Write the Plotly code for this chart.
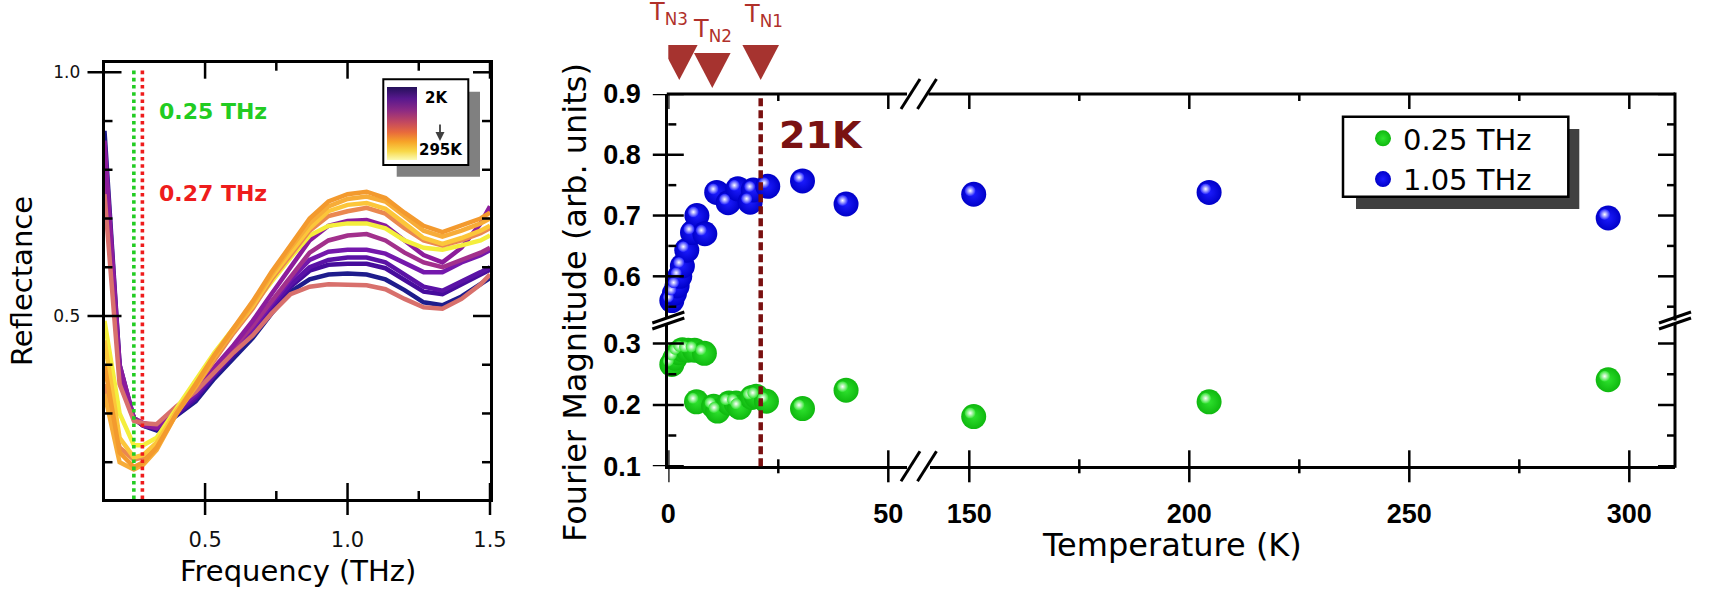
import plotly.graph_objects as go

W, H = 1714, 598

# ---------------- Left panel data: reflectance spectra ----------------
FREQ_THZ = [0.147, 0.2, 0.25, 0.283, 0.33, 0.4, 0.467, 0.533, 0.6, 0.667, 0.733, 0.8,
            0.867, 0.933, 1.0, 1.067, 1.133, 1.2, 1.267, 1.333, 1.4, 1.467, 1.5]

R_NAVY = [0.88, 0.40, 0.29, 0.275, 0.265, 0.295, 0.325, 0.372, 0.415, 0.455, 0.505, 0.55,
          0.575, 0.585, 0.587, 0.585, 0.575, 0.553, 0.528, 0.522, 0.54, 0.565, 0.578]
R_INDIGO2 = [0.84, 0.39, 0.29, 0.275, 0.268, 0.298, 0.33, 0.378, 0.42, 0.465, 0.515, 0.56,
             0.593, 0.605, 0.607, 0.607, 0.598, 0.575, 0.55, 0.545, 0.565, 0.585, 0.595]
R_INDIGO = [0.82, 0.39, 0.29, 0.278, 0.27, 0.30, 0.335, 0.38, 0.425, 0.47, 0.52, 0.565,
            0.60, 0.615, 0.62, 0.62, 0.61, 0.585, 0.56, 0.552, 0.57, 0.59, 0.60]
R_VIOLET = [0.80, 0.39, 0.29, 0.28, 0.272, 0.305, 0.34, 0.385, 0.43, 0.475, 0.525, 0.575,
            0.615, 0.632, 0.636, 0.636, 0.628, 0.608, 0.59, 0.59, 0.61, 0.625, 0.635]
R_MAGENTA = [0.78, 0.38, 0.29, 0.28, 0.275, 0.31, 0.345, 0.39, 0.435, 0.48, 0.53, 0.58,
             0.63, 0.655, 0.665, 0.668, 0.655, 0.63, 0.61, 0.60, 0.615, 0.63, 0.64]
R_PURPLE = [0.86, 0.40, 0.29, 0.275, 0.27, 0.31, 0.345, 0.395, 0.44, 0.49, 0.545, 0.60,
            0.655, 0.685, 0.695, 0.697, 0.685, 0.655, 0.625, 0.61, 0.64, 0.69, 0.725]
R_SALMON = [0.75, 0.36, 0.285, 0.28, 0.278, 0.315, 0.345, 0.385, 0.425, 0.46, 0.505, 0.545,
            0.56, 0.565, 0.565, 0.563, 0.555, 0.535, 0.518, 0.515, 0.535, 0.565, 0.585]
R_YELLOW = [0.49, 0.30, 0.235, 0.235, 0.25, 0.31, 0.365, 0.425, 0.475, 0.52, 0.57, 0.62,
            0.665, 0.685, 0.69, 0.69, 0.68, 0.655, 0.64, 0.636, 0.645, 0.655, 0.665]
R_CORAL = [0.36, 0.23, 0.205, 0.21, 0.235, 0.305, 0.355, 0.41, 0.465, 0.515, 0.575, 0.625,
           0.675, 0.705, 0.715, 0.722, 0.71, 0.68, 0.655, 0.645, 0.655, 0.67, 0.68]
R_GOLD = [0.45, 0.25, 0.21, 0.215, 0.24, 0.305, 0.36, 0.42, 0.47, 0.52, 0.58, 0.63,
          0.68, 0.715, 0.728, 0.732, 0.72, 0.69, 0.66, 0.648, 0.66, 0.675, 0.685]
R_ORANGE2 = [0.34, 0.20, 0.185, 0.195, 0.225, 0.30, 0.355, 0.415, 0.47, 0.525, 0.585, 0.64,
             0.69, 0.725, 0.74, 0.745, 0.735, 0.705, 0.675, 0.663, 0.675, 0.69, 0.70]
R_ORANGE1 = [0.40, 0.22, 0.19, 0.20, 0.23, 0.30, 0.36, 0.42, 0.475, 0.53, 0.59, 0.645,
             0.70, 0.735, 0.75, 0.755, 0.742, 0.712, 0.685, 0.672, 0.685, 0.70, 0.712]

SPECTRA = [R_NAVY, R_INDIGO2, R_INDIGO, R_VIOLET, R_MAGENTA, R_PURPLE, R_SALMON,
           R_YELLOW, R_CORAL, R_GOLD, R_ORANGE2, R_ORANGE1]
SPECTRA_COLORS = ["#1e1c8c", "#460c9c", "#5a12a6", "#7418ac", "#a2308c", "#8c1c9c",
                  "#d8706c", "#f4ee3c", "#ea8850", "#fcc63a", "#f7ac38", "#f39a2e"]

MARKED_FREQS = [0.25, 0.28]
MARKED_LABELS = ["0.25 THz", "0.27 THz"]
MARKED_COLORS = ["#22cc22", "#ee1c1c"]

# ---------------- Right panel data: Fourier magnitude vs T ----------------
T_GREEN = [0.8, 1.5, 2.3, 3.2, 4.5, 6.0, 6.4, 8.2, 10.3, 11.2, 13.8, 15.4, 16.2, 19.0,
           20.0, 22.3, 30.5, 40.4, 151.0, 204.5, 295.2]
M_GREEN = [0.266, 0.276, 0.285, 0.290, 0.289, 0.289, 0.205, 0.284, 0.198, 0.190, 0.203,
           0.203, 0.196, 0.212, 0.214, 0.206, 0.194, 0.224, 0.181, 0.205, 0.241]
T_BLUE = [0.8, 1.4, 2.0, 2.6, 3.2, 4.2, 5.5, 6.5, 8.3, 11.0, 13.6, 15.8, 18.6, 19.3,
          22.6, 30.5, 40.4, 151.0, 204.5, 295.2]
M_BLUE = [0.560, 0.572, 0.584, 0.600, 0.617, 0.643, 0.672, 0.700, 0.670, 0.738, 0.721,
          0.744, 0.722, 0.742, 0.748, 0.757, 0.719, 0.735, 0.738, 0.696]
SERIES_NAMES = ["0.25 THz", "1.05 THz"]

T_NEEL = [2.5, 10.0, 21.0]
NEEL_LABELS = ["T<sub>N3</sub>", "T<sub>N2</sub>", "T<sub>N1</sub>"]
T_HIGHLIGHT = 21.0
HIGHLIGHT_LABEL = "21K"

# tick positions
LX_MAJOR, LX_MINOR = [0.5, 1.0, 1.5], [0.75, 1.25]
LY_MAJOR, LY_MINOR = [0.5, 1.0], [0.2, 0.3, 0.4, 0.6, 0.7, 0.8, 0.9]
XA_TICKS, XA_MINOR = [0, 50], [25]
XB_TICKS, XB_MINOR = [150, 200, 250, 300], [175, 225, 275]
YU_TICKS, YU_MINOR = [0.6, 0.7, 0.8, 0.9], [0.55, 0.65, 0.75, 0.85]
YL_TICKS, YL_MINOR = [0.1, 0.2, 0.3], [0.15, 0.25]

# ---------------- layout geometry (pixels) ----------------
def fx(px):
    return px / W


def fy(py):
    return 1 - py / H


LX0, LX1, LY0, LY1 = 104.5, 490.0, 62.7, 499.0
L_XRANGE = [0.147, 1.5]
L_YRANGE = [0.1245, 1.0197]


def lx_px(v):
    return LX0 + (v - L_XRANGE[0]) / (L_XRANGE[1] - L_XRANGE[0]) * (LX1 - LX0)


def ly_px(v):
    return LY1 - (v - L_YRANGE[0]) / (L_YRANGE[1] - L_YRANGE[0]) * (LY1 - LY0)


PX_PER_K = 4.4
RX_A0, RX_A1 = 668.3, 907.0
RX_B0, RX_B1 = 930.0, 1675.0
RY_TOP, RY_U_BOT, RY_L_TOP, RY_BOT = 94.0, 319.0, 325.0, 466.3
XA_RANGE = [0, (RX_A1 - RX_A0) / PX_PER_K]
XB_RANGE = [150 - (969.3 - RX_B0) / PX_PER_K, 150 + (RX_B1 - 969.3) / PX_PER_K]
YU_RANGE = [0.9 - (RY_U_BOT - RY_TOP) / 607.7, 0.9]
YL_RANGE = [0.1, 0.1 + (RY_BOT - RY_L_TOP) / 614.0]
PPU_YU = (RY_U_BOT - RY_TOP) / (YU_RANGE[1] - YU_RANGE[0])
PPU_YL = (RY_BOT - RY_L_TOP) / (YL_RANGE[1] - YL_RANGE[0])
HL_SHIFT_PX = 3.5

FONT_L = "DejaVu Sans"
FONT_TICK_R = "Liberation Sans"
TICKW = 2.5


def axis(**kw):
    d = dict(showgrid=False, zeroline=False, showline=False, showticklabels=False,
             linecolor="black", ticks="")
    d.update(kw)
    return d


fig = go.Figure()

for vals, col in zip(SPECTRA, SPECTRA_COLORS):
    fig.add_trace(go.Scatter(x=FREQ_THZ, y=vals, mode="lines",
                             line=dict(color=col, width=4.5),
                             showlegend=False, hoverinfo="skip",
                             xaxis="x", yaxis="y"))

CBAR_SCALE = [[0.0, "#fbfbb4"], [0.12, "#f8d848"], [0.25, "#f7a428"], [0.38, "#e86a3c"],
              [0.52, "#c24860"], [0.68, "#8c2a84"], [0.84, "#58188e"], [1.0, "#24105a"]]
fig.add_trace(go.Scatter(
    x=[None, None], y=[None, None], mode="markers", showlegend=False, hoverinfo="skip",
    xaxis="x", yaxis="y",
    marker=dict(color=[0, 1], cmin=0, cmax=1, colorscale=CBAR_SCALE, showscale=True,
                colorbar=dict(x=fx(386.7), xanchor="left", xref="paper",
                              y=fy(87.3), yanchor="top", yref="paper",
                              len=72.7, lenmode="pixels", thickness=30,
                              thicknessmode="pixels", outlinewidth=0,
                              showticklabels=False, ticks="", xpad=0, ypad=0))))


def split(ts, ms, low):
    pairs = [(t, m) for t, m in zip(ts, ms) if (t < 100) == low]
    return [p[0] for p in pairs], [p[1] for p in pairs]


SERIES = [
    (T_GREEN, M_GREEN, SERIES_NAMES[0], "#0fb80f", "#2ee22e", "y4", "y10"),
    (T_BLUE, M_BLUE, SERIES_NAMES[1], "#0000c8", "#1c1cff", "y3", "y9"),
]
for k, (ts, ms, name, edge, core, yax, _) in enumerate(SERIES):
    for low, xax in ((True, "x3"), (False, "x4")):
        xs, ys = split(ts, ms, low)
        fig.add_trace(go.Scatter(
            x=xs, y=ys, mode="markers", name=name, legendgroup=name,
            showlegend=low, legendrank=k + 1, cliponaxis=False,
            marker=dict(size=25, color=edge, line=dict(width=0),
                        gradient=dict(type="radial", color=core)),
            xaxis=xax, yaxis=yax))
for k, (ts, ms, name, edge, core, _, yhl) in enumerate(SERIES):
    for low, xhl in ((True, "x9"), (False, "x10")):
        xs, ys = split(ts, ms, low)
        fig.add_trace(go.Scatter(
            x=xs, y=ys, mode="markers", showlegend=False, hoverinfo="skip",
            cliponaxis=False,
            marker=dict(size=11, color=core, line=dict(width=0),
                        gradient=dict(type="radial", color="white")),
            xaxis=xhl, yaxis=yhl))

lay = {}
lay["xaxis"] = axis(domain=[fx(LX0), fx(LX1)], range=L_XRANGE, anchor="y",
                    showline=True, linewidth=2.7, mirror=True,
                    tickmode="array", tickvals=LX_MAJOR, tickformat=".1f",
                    showticklabels=True, ticklabelstandoff=20,
                    tickfont=dict(family=FONT_L, size=21, color="#111"))
lay["yaxis"] = axis(domain=[fy(LY1), fy(LY0)], range=L_YRANGE, anchor="x",
                    showline=True, linewidth=2.7, mirror=True,
                    tickmode="array", tickvals=LY_MAJOR, tickformat=".1f",
                    showticklabels=True, ticklabelstandoff=18,
                    tickfont=dict(family=FONT_L, size=17, color="#111"))

RTF = dict(family=FONT_TICK_R, size=27, color="black", weight=700)
for name, dom, rng, tv in (("xaxis3", [fx(RX_A0), fx(RX_A1)], XA_RANGE, XA_TICKS),
                           ("xaxis4", [fx(RX_B0), fx(RX_B1)], XB_RANGE, XB_TICKS)):
    lay[name] = axis(domain=dom, range=rng, anchor="y4", side="bottom",
                     showline=True, linewidth=3,
                     tickmode="array", tickvals=tv, showticklabels=True,
                     ticklabelstandoff=21, tickfont=RTF)
for name, dom, rng, tv in (("yaxis3", [fy(RY_U_BOT), fy(RY_TOP)], YU_RANGE, YU_TICKS),
                           ("yaxis4", [fy(RY_BOT), fy(RY_L_TOP)], YL_RANGE, YL_TICKS)):
    lay[name] = axis(domain=dom, range=rng, anchor="x3", side="left",
                     showline=True, linewidth=3,
                     tickmode="array", tickvals=tv, tickformat=".1f",
                     showticklabels=True, ticklabelstandoff=19, tickfont=RTF)

# invisible, pixel-shifted twins for the sphere highlights
dxk = HL_SHIFT_PX / PX_PER_K
lay["xaxis9"] = axis(overlaying="x3", anchor="y3", visible=False,
                     range=[XA_RANGE[0] + dxk, XA_RANGE[1] + dxk])
lay["xaxis10"] = axis(overlaying="x4", anchor="y3", visible=False,
                      range=[XB_RANGE[0] + dxk, XB_RANGE[1] + dxk])
lay["yaxis9"] = axis(overlaying="y3", anchor="x3", visible=False,
                     range=[YU_RANGE[0] - HL_SHIFT_PX / PPU_YU,
                            YU_RANGE[1] - HL_SHIFT_PX / PPU_YU])
lay["yaxis10"] = axis(overlaying="y4", anchor="x3", visible=False,
                      range=[YL_RANGE[0] - HL_SHIFT_PX / PPU_YL,
                             YL_RANGE[1] - HL_SHIFT_PX / PPU_YL])

# ---------------- shapes ----------------
shapes = []
TICK_LINE = dict(color="black", width=TICKW)


def vticks(xref, vals, y_px, inward, outward, top=False, to_px=None):
    """tick marks on a horizontal axis line"""
    for v in vals:
        if top:
            y0, y1 = y_px - outward, y_px + inward
        else:
            y0, y1 = y_px - inward, y_px + outward
        if to_px is None:
            xr, xv = xref, v
        else:
            xr, xv = "paper", fx(to_px(v))
        shapes.append(dict(type="line", xref=xr, yref="paper", x0=xv, x1=xv,
                           y0=fy(y1), y1=fy(y0), line=TICK_LINE, layer="above"))


def hticks(yref, vals, x_px, inward, outward, right=False, to_px=None):
    """tick marks on a vertical axis line"""
    for v in vals:
        if right:
            x0, x1 = x_px - inward, x_px + outward
        else:
            x0, x1 = x_px - outward, x_px + inward
        if to_px is None:
            yr, yv = yref, v
        else:
            yr, yv = "paper", fy(to_px(v))
        shapes.append(dict(type="line", xref="paper", yref=yr, y0=yv, y1=yv,
                           x0=fx(x0), x1=fx(x1), line=TICK_LINE, layer="above"))


# left panel ticks
vticks(None, LX_MAJOR, LY1, 16, 16, to_px=lx_px)
vticks(None, LX_MINOR, LY1, 8, 0, to_px=lx_px)
vticks(None, LX_MAJOR, LY0, 16, 0, top=True, to_px=lx_px)
vticks(None, LX_MINOR, LY0, 8, 0, top=True, to_px=lx_px)
hticks(None, LY_MAJOR, LX0, 17, 17, to_px=ly_px)
hticks(None, LY_MINOR, LX0, 8, 0, to_px=ly_px)
hticks(None, LY_MAJOR, LX1, 17, 0, right=True, to_px=ly_px)
hticks(None, LY_MINOR, LX1, 8, 0, right=True, to_px=ly_px)
# right panel ticks
for xr, tv, mv in (("x3", XA_TICKS, XA_MINOR), ("x4", XB_TICKS, XB_MINOR)):
    vticks(xr, tv, RY_BOT, 16, 16)
    vticks(xr, mv, RY_BOT, 7, 7)
    vticks(xr, tv, RY_TOP, 15, 0, top=True)
    vticks(xr, mv, RY_TOP, 7, 0, top=True)
for yr, tv, mv in (("y3", YU_TICKS, YU_MINOR), ("y4", YL_TICKS, YL_MINOR)):
    hticks(yr, tv, RX_A0, 15.5, 15.5)
    hticks(yr, mv, RX_A0, 8, 0)
    hticks(yr, tv, RX_B1, 17, 0, right=True)
    hticks(yr, mv, RX_B1, 8, 0, right=True)

# right panel frame: top and right edges (broken)
FRAME = dict(color="black", width=3)
for x0, x1 in ((RX_A0, RX_A1), (RX_B0, RX_B1)):
    shapes.append(dict(type="line", xref="paper", yref="paper", x0=fx(x0 - 1.5),
                       x1=fx(x1), y0=fy(RY_TOP), y1=fy(RY_TOP), line=FRAME))
for y0, y1 in ((RY_TOP, RY_U_BOT), (RY_L_TOP, RY_BOT)):
    shapes.append(dict(type="line", xref="paper", yref="paper", x0=fx(RX_B1),
                       x1=fx(RX_B1), y0=fy(y0 - 1.5), y1=fy(y1 + 1.5), line=FRAME))

for f, c in zip(MARKED_FREQS, MARKED_COLORS):
    shapes.append(dict(type="line", xref="x", yref="paper", x0=f, x1=f,
                       y0=fy(LY1), y1=fy(69), line=dict(color=c, width=3.6, dash="dot")))
shapes.append(dict(type="rect", xref="paper", yref="paper", layer="above",
                   x0=fx(396.7), x1=fx(480), y0=fy(176.7), y1=fy(91.7),
                   fillcolor="#808080", line=dict(width=0)))
shapes.append(dict(type="rect", xref="paper", yref="paper", layer="above",
                   x0=fx(383.3), x1=fx(468.3), y0=fy(165), y1=fy(79.3),
                   fillcolor="white", line=dict(color="black", width=2)))
shapes.append(dict(type="line", xref="x3", yref="paper", x0=T_HIGHLIGHT, x1=T_HIGHLIGHT,
                   y0=fy(RY_BOT), y1=fy(RY_TOP + 3),
                   line=dict(color="#7a1010", width=4.5, dash="8px,4px")))
TRI_HALF_K = 18.3 / PX_PER_K
TRI_TOP_PX = [45, 53, 45]
TRI_H_PX = 35
for t, top in zip(T_NEEL, TRI_TOP_PX):
    path = (f"M {t - TRI_HALF_K},{fy(top)} L {t + TRI_HALF_K},{fy(top)} "
            f"L {t},{fy(top + TRI_H_PX)} Z")
    shapes.append(dict(type="path", xref="x3", yref="paper", path=path,
                       fillcolor="#a6332f", line=dict(width=0)))
BRK = dict(color="black", width=3)
for ypx in (RY_TOP, RY_BOT):
    for x0 in (901.0, 917.5):
        shapes.append(dict(type="line", xref="paper", yref="paper",
                           x0=fx(x0), x1=fx(x0 + 19), y0=fy(ypx + 15), y1=fy(ypx - 15),
                           line=BRK))
for xpx in (RX_A0, RX_B1):
    for dy in (0, -6):
        shapes.append(dict(type="line", xref="paper", yref="paper",
                           x0=fx(xpx - 16), x1=fx(xpx + 16),
                           y0=fy(329 + dy), y1=fy(318 + dy), line=BRK))
shapes.append(dict(type="rect", xref="paper", yref="paper",
                   x0=fx(1356), x1=fx(1579.3), y0=fy(209), y1=fy(129),
                   fillcolor="#404040", line=dict(width=0)))
shapes.append(dict(type="rect", xref="paper", yref="paper",
                   x0=fx(1343), x1=fx(1568.3), y0=fy(196.7), y1=fy(116.7),
                   fillcolor="white", line=dict(color="black", width=2.5)))

# ---------------- annotations ----------------
ann = []


def text(x, y, s, size, color="black", family=FONT_L, angle=0, xanchor="center",
         weight=400, xref="paper", xshift=0):
    ann.append(dict(x=x, y=y, xref=xref, yref="paper", text=s, showarrow=False,
                    textangle=angle, xanchor=xanchor, yanchor="middle", xshift=xshift,
                    font=dict(family=family, size=size, color=color, weight=weight)))


text(fx(22), fy(281), "Reflectance", 29, angle=-90)
text(fx(298), fy(571), "Frequency (THz)", 29)
text(fx(575), fy(303), "Fourier Magnitude (arb. units)", 32, angle=-90)
text(fx(1172), fy(545), "Temperature (K)", 32)
for lbl, c, ypx in zip(MARKED_LABELS, MARKED_COLORS, (111.7, 193.3)):
    text(fx(157), fy(ypx), lbl, 22, color=c, xanchor="left", weight=700)
text(fx(436.7), fy(98.3), "2K", 15, weight=700)
text(fx(441.5), fy(150), "295K", 15, weight=700)
ann.append(dict(x=fx(440), y=fy(141), xref="paper", yref="paper", ax=0, ay=-18,
                showarrow=True, arrowhead=2, arrowsize=1, arrowwidth=1.8,
                arrowcolor="#404040", text=""))
text(fx(821), fy(135), HIGHLIGHT_LABEL, 38, color="#7a1212", weight=700)
for t, lbl, ypx, dx in zip(T_NEEL, NEEL_LABELS, (14, 31, 16), (-11, 0, 3)):
    text(t, fy(ypx), lbl, 24, color="#b0302a", xref="x3", xshift=dx)

fig.update_layout(
    template="none",
    width=W, height=H, margin=dict(l=0, r=0, t=0, b=0, pad=0, autoexpand=False),
    paper_bgcolor="white", plot_bgcolor="rgba(0,0,0,0)",
    shapes=shapes, annotations=ann,
    showlegend=True,
    legend=dict(x=fx(1363), y=fy(113), xanchor="left", yanchor="top",
                bgcolor="rgba(0,0,0,0)", borderwidth=0,
                font=dict(family=FONT_L, size=29, color="black"),
                itemclick=False, itemdoubleclick=False, tracegroupgap=0),
    **lay,
)

fig.write_html("out.html", config={"displayModeBar": False},
               post_script="document.body.style.margin='0';document.body.style.padding='0';")
